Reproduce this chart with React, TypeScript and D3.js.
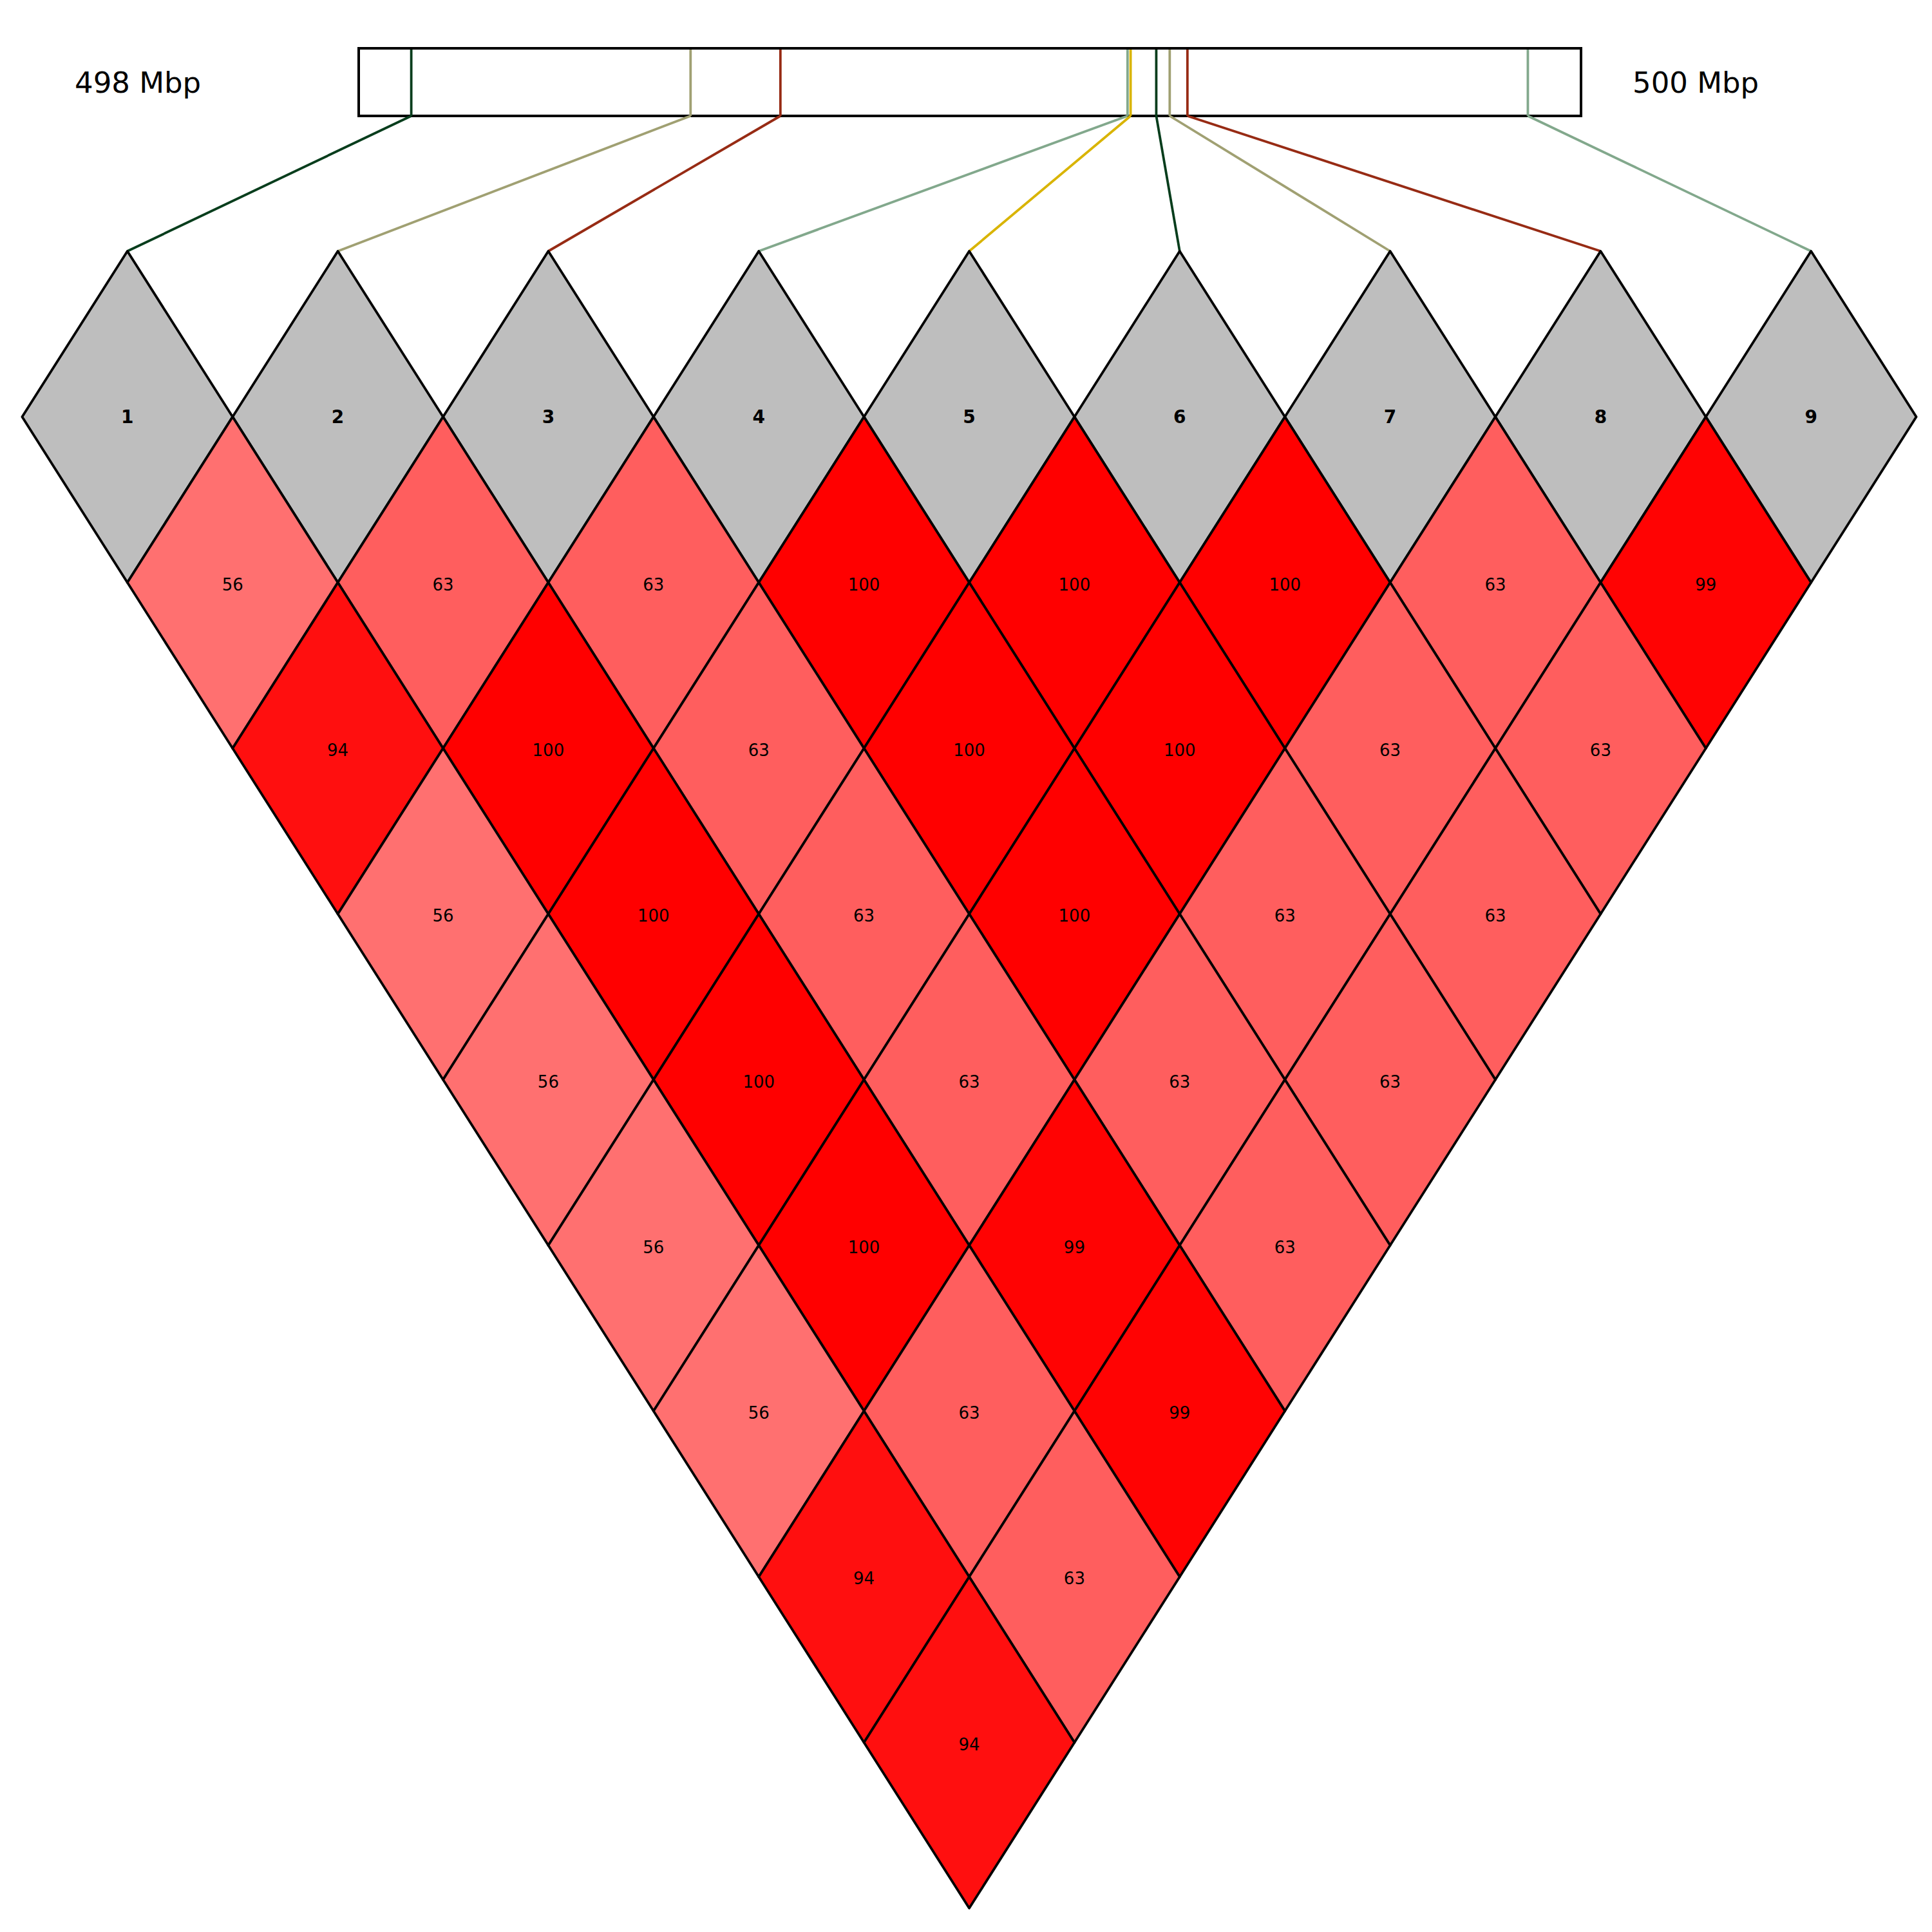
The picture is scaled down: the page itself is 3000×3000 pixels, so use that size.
import { useMemo } from 'react';
import * as d3 from 'd3';

// marker positions (Mbp) and labels
const markers = ['1', '2', '3', '4', '5', '6', '7', '8', '9'];
const positions = [498.086, 498.543, 498.69, 499.258, 499.263, 499.305, 499.327, 499.356, 499.913];
const markerColors = ['#073d1c', '#a0a072', '#972b14', '#82a88c', '#d9b400'];
const rangeLabels = ['498 Mbp', '500 Mbp'];
const rangeDomain = [498, 500];

// D' values (x100) per distance: row k holds pairs (i, i+k)
const ldRows = [
  [56, 63, 63, 100, 100, 100, 63, 99],
  [94, 100, 63, 100, 100, 63, 63],
  [56, 100, 63, 100, 63, 63],
  [56, 100, 63, 63, 63],
  [56, 100, 99, 63],
  [56, 63, 99],
  [94, 63],
  [94],
];

interface Cell {
  i: number;
  j: number;
  value: number;
}

export default function App() {
  const width = 3000;
  const height = 3000;

  const box = { x0: 557, x1: 2455, y0: 75, y1: 180 };
  const topY = 390;
  const halfW = 163.4;
  const halfH = 257.3;
  const rowY = (k: number) => topY + halfH + k * halfH;

  const x = d3.scaleLinear().domain([0, markers.length - 1]).range([197.8, 197.8 + 8 * 326.8]);
  const pos = d3.scaleLinear().domain(rangeDomain).range([box.x0, box.x1]);
  const fill = (v: number) => d3.rgb(255, Math.round(255 * (1 - v / 100)), Math.round(255 * (1 - v / 100))).formatHex();

  const cells: Cell[] = useMemo(() => {
    const out: Cell[] = [];
    ldRows.forEach((row, r) => {
      row.forEach((v, i) => out.push({ i, j: i + r + 1, value: v }));
    });
    return out;
  }, []);

  const diamond = (cx: number, cy: number) =>
    `M${cx},${cy - halfH}L${cx + halfW},${cy}L${cx},${cy + halfH}L${cx - halfW},${cy}Z`;

  return (
    <svg
      width={width}
      height={height}
      style={{ position: 'absolute', left: 0, top: 0, background: '#fff' }}
      fontFamily="DejaVu Sans"
    >
      {/* chromosome region */}
      <rect x={box.x0} y={box.y0} width={box.x1 - box.x0} height={box.y1 - box.y0} fill="#fff" stroke="#000" strokeWidth={4} />
      <text x={116} y={144} fontSize={45} fill="#000">{rangeLabels[0]}</text>
      <text x={2535} y={144} fontSize={45} fill="#000">{rangeLabels[1]}</text>

      {/* marker ticks and connectors */}
      {positions.map((p, i) => {
        const c = markerColors[i % markerColors.length];
        return (
          <g key={'m' + i} fill="none" stroke={c} strokeWidth={3.8}>
            <line x1={pos(p)} x2={pos(p)} y1={box.y0 + 2} y2={box.y1} />
            <line x1={pos(p)} x2={x(i)} y1={box.y1} y2={topY} />
          </g>
        );
      })}

      {/* marker diamonds */}
      {markers.map((m, i) => (
        <g key={'d' + i}>
          <path d={diamond(x(i), rowY(0))} fill="#bebebe" stroke="#000" strokeWidth={3.8} strokeLinejoin="round" />
          <text x={x(i)} y={rowY(0) + 10} textAnchor="middle" fontSize={28} fontWeight="bold" fill="#000">
            {m}
          </text>
        </g>
      ))}

      {/* LD cells */}
      {cells.map((c) => {
        const cx = (x(c.i) + x(c.j)) / 2;
        const cy = rowY(c.j - c.i);
        return (
          <g key={`c${c.i}-${c.j}`}>
            <path d={diamond(cx, cy)} fill={fill(c.value)} stroke="#000" strokeWidth={3.8} strokeLinejoin="round" />
            <text x={cx} y={cy + 12} textAnchor="middle" fontSize={26} fill="#000">
              {c.value}
            </text>
          </g>
        );
      })}
    </svg>
  );
}
